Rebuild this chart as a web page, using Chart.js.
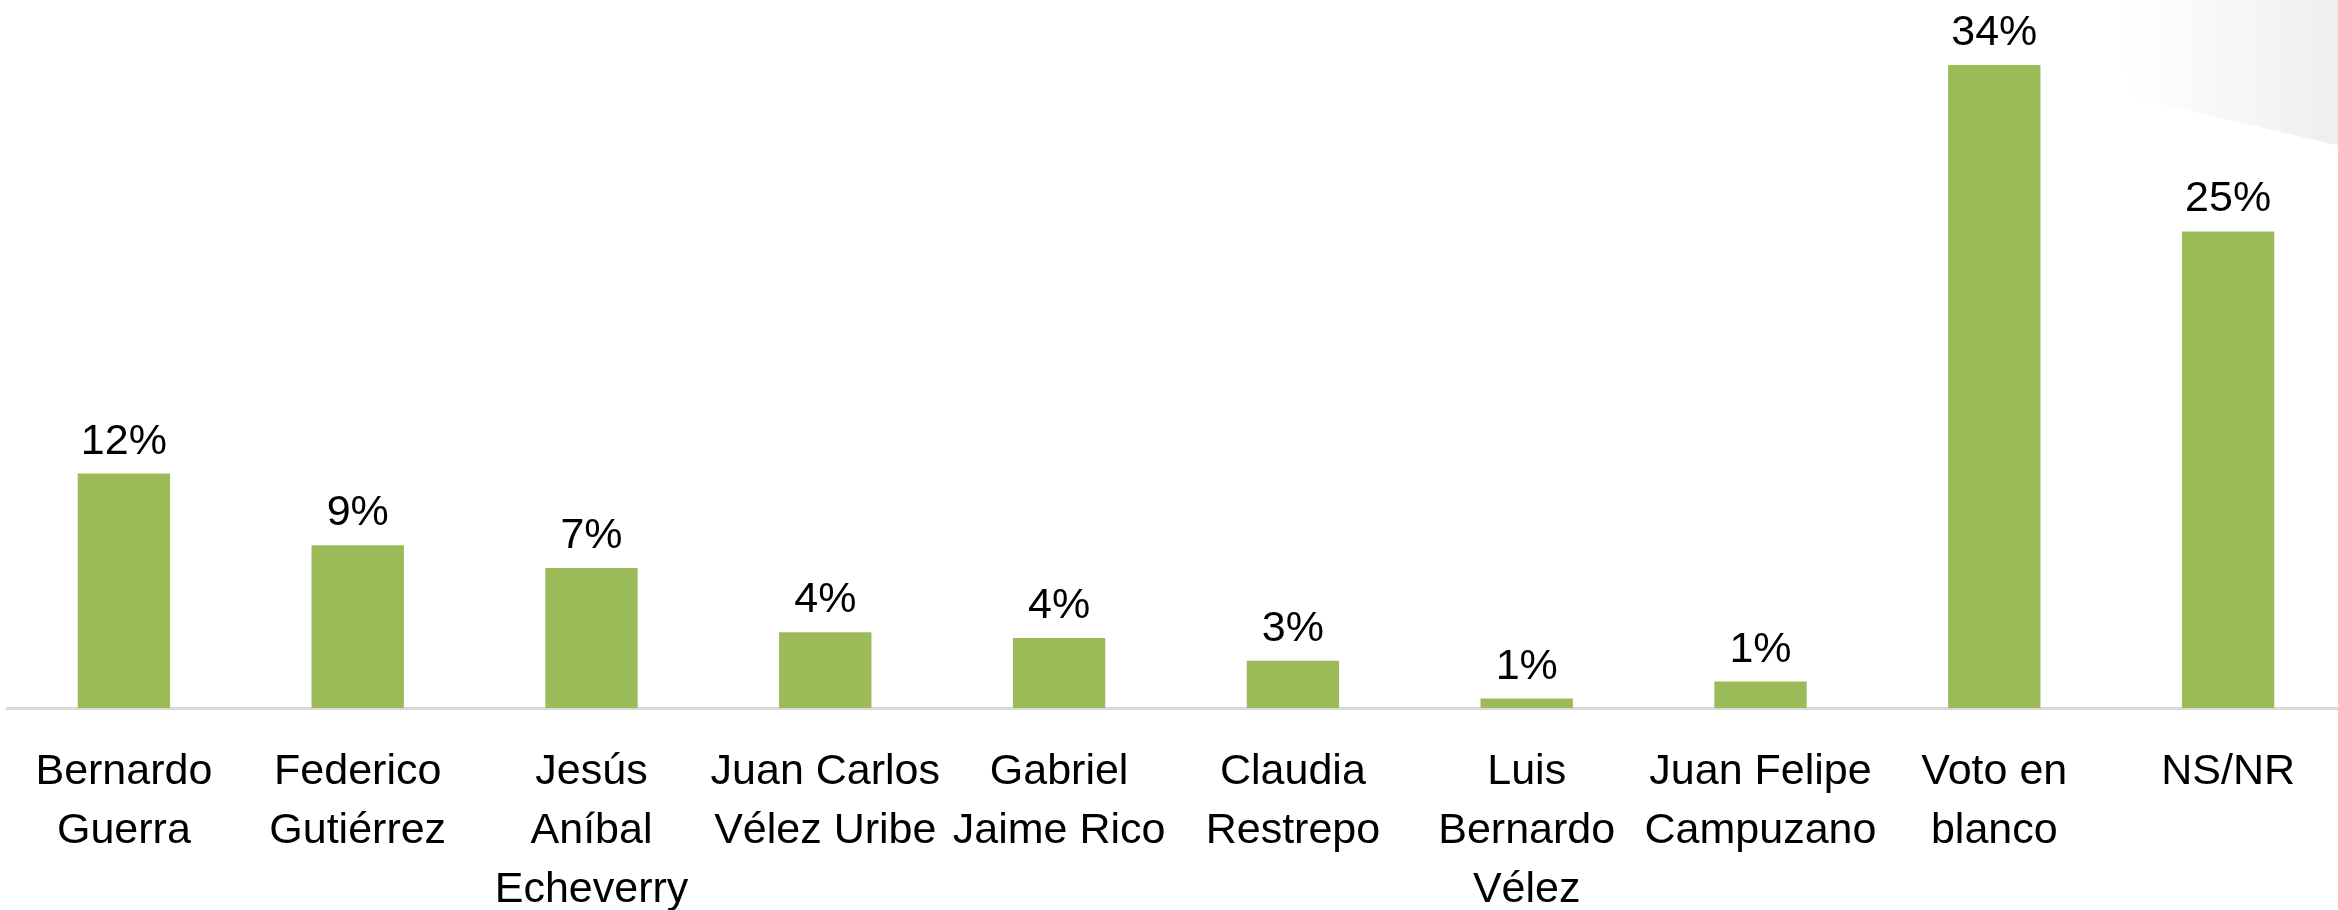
<!DOCTYPE html>
<html lang="es">
<head>
    <meta charset="UTF-8">
    <title>Intención de voto</title>
    <style>
        * { margin: 0; padding: 0; box-sizing: border-box; }
        body { background: #fff; width: 2338px; height: 910px; overflow: hidden; }
        #wrap { position: relative; width: 2338px; height: 910px; overflow: hidden; }
    </style>
</head>
<body>
    <div id="wrap">
        <canvas id="votoChart" width="2345" height="910"></canvas>
    </div>

    <script src="https://cdn.jsdelivr.net/npm/chart.js"></script>
    <script>
        // categories (multi-line as in the original)
        const candidatos = [
            ['Bernardo', 'Guerra'],
            ['Federico', 'Gutiérrez'],
            ['Jesús', 'Aníbal', 'Echeverry'],
            ['Juan Carlos', 'Vélez Uribe'],
            ['Gabriel', 'Jaime Rico'],
            ['Claudia', 'Restrepo'],
            ['Luis', 'Bernardo', 'Vélez'],
            ['Juan Felipe', 'Campuzano'],
            ['Voto en', 'blanco'],
            ['NS/NR']
        ];
        // bar heights (%)
        const porcentajes = [12.4, 8.6, 7.4, 4.0, 3.7, 2.5, 0.5, 1.4, 34, 25.2];
        // labels printed above the bars
        const etiquetas = ['12%', '9%', '7%', '4%', '4%', '3%', '1%', '1%', '34%', '25%'];

        const FONT = '"Liberation Sans", Arial, sans-serif';

        // grey slide decoration in the top right corner
        const cornerShape = {
            id: 'cornerShape',
            beforeDraw(chart) {
                const ctx = chart.ctx;
                const grad = ctx.createLinearGradient(2120, 0, 2338, 0);
                grad.addColorStop(0, 'rgba(240,240,240,0)');
                grad.addColorStop(1, 'rgba(238,238,238,1)');
                ctx.save();
                ctx.fillStyle = grad;
                ctx.beginPath();
                ctx.moveTo(2110, 0);
                ctx.lineTo(2345, 0);
                ctx.lineTo(2345, 147);
                ctx.lineTo(2131, 97);
                ctx.closePath();
                ctx.fill();
                ctx.restore();
            }
        };

        // value labels above each bar
        const barLabels = {
            id: 'barLabels',
            afterDatasetsDraw(chart) {
                const ctx = chart.ctx;
                const meta = chart.getDatasetMeta(0);
                ctx.save();
                ctx.font = '43px ' + FONT;
                ctx.fillStyle = '#000';
                ctx.textAlign = 'center';
                ctx.textBaseline = 'alphabetic';
                meta.data.forEach((bar, i) => {
                    ctx.fillText(etiquetas[i], bar.x, bar.y - 20);
                });
                ctx.restore();
            }
        };

        const ctx = document.getElementById('votoChart').getContext('2d');
        new Chart(ctx, {
            type: 'bar',
            data: {
                labels: candidatos,
                datasets: [{
                    data: porcentajes,
                    backgroundColor: '#9bbb59',
                    borderWidth: 0,
                    barPercentage: 0.395,
                    categoryPercentage: 1
                }]
            },
            options: {
                responsive: false,
                animation: false,
                devicePixelRatio: 1,
                layout: { padding: { left: 7, right: 0, top: 0, bottom: 0 } },
                plugins: {
                    legend: { display: false },
                    tooltip: { enabled: false }
                },
                scales: {
                    x: {
                        grid: { display: false, drawTicks: false },
                        border: { display: true, color: '#d9d9d9', width: 3 },
                        ticks: {
                            color: '#000',
                            font: { family: FONT, size: 43, lineHeight: 1.372 },
                            padding: 35,
                            maxRotation: 0,
                            minRotation: 0,
                            autoSkip: false
                        },
                        afterFit(scale) { scale.height = 202; }
                    },
                    y: {
                        display: false,
                        min: 0,
                        max: 37.44
                    }
                }
            },
            plugins: [cornerShape, barLabels]
        });
    </script>
</body>
</html>
